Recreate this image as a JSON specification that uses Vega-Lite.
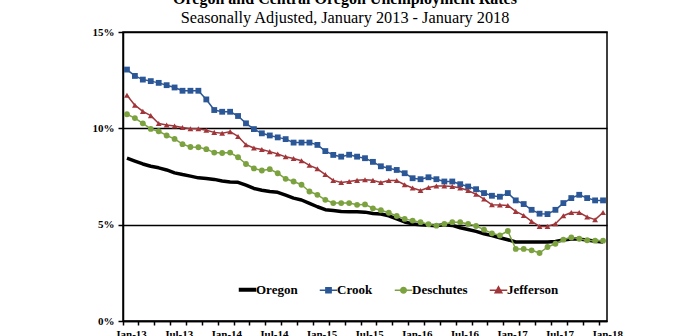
{
"$schema": "https://vega.github.io/schema/vega-lite/v6.json",
"width": 484, "height": 289,
"autosize": {"type": "none"},
"padding": {"left": 123, "top": 32, "right": 93, "bottom": 15},
"background": "white",
"config": {"view": {"stroke": "black", "strokeWidth": 1.5}, "font": "Liberation Serif"},
"title": {"text": "Oregon and Central Oregon Unemployment Rates", "subtitle": "Seasonally Adjusted, January 2013 - January 2018", "anchor": "middle", "frame": "group", "dx": -20, "font": "Liberation Serif", "fontSize": 16, "fontWeight": "bold", "color": "black", "subtitleFont": "Liberation Serif", "subtitleFontSize": 16.3, "subtitleColor": "black", "subtitlePadding": 3, "offset": 0},
"data": {"values": [
{"month":"Jan-13","series":"Oregon","rate":8.45},{"month":"Feb-13","series":"Oregon","rate":8.3},{"month":"Mar-13","series":"Oregon","rate":8.15},{"month":"Apr-13","series":"Oregon","rate":8.03},{"month":"May-13","series":"Oregon","rate":7.95},{"month":"Jun-13","series":"Oregon","rate":7.84},{"month":"Jul-13","series":"Oregon","rate":7.69},{"month":"Aug-13","series":"Oregon","rate":7.6},{"month":"Sep-13","series":"Oregon","rate":7.52},{"month":"Oct-13","series":"Oregon","rate":7.43},{"month":"Nov-13","series":"Oregon","rate":7.4},{"month":"Dec-13","series":"Oregon","rate":7.35},
{"month":"Jan-14","series":"Oregon","rate":7.27},{"month":"Feb-14","series":"Oregon","rate":7.22},{"month":"Mar-14","series":"Oregon","rate":7.2},{"month":"Apr-14","series":"Oregon","rate":7.05},{"month":"May-14","series":"Oregon","rate":6.88},{"month":"Jun-14","series":"Oregon","rate":6.79},{"month":"Jul-14","series":"Oregon","rate":6.72},{"month":"Aug-14","series":"Oregon","rate":6.68},{"month":"Sep-14","series":"Oregon","rate":6.53},{"month":"Oct-14","series":"Oregon","rate":6.38},{"month":"Nov-14","series":"Oregon","rate":6.28},{"month":"Dec-14","series":"Oregon","rate":6.1},
{"month":"Jan-15","series":"Oregon","rate":5.93},{"month":"Feb-15","series":"Oregon","rate":5.78},{"month":"Mar-15","series":"Oregon","rate":5.73},{"month":"Apr-15","series":"Oregon","rate":5.68},{"month":"May-15","series":"Oregon","rate":5.67},{"month":"Jun-15","series":"Oregon","rate":5.67},{"month":"Jul-15","series":"Oregon","rate":5.65},{"month":"Aug-15","series":"Oregon","rate":5.58},{"month":"Sep-15","series":"Oregon","rate":5.55},{"month":"Oct-15","series":"Oregon","rate":5.46},{"month":"Nov-15","series":"Oregon","rate":5.3},{"month":"Dec-15","series":"Oregon","rate":5.14},
{"month":"Jan-16","series":"Oregon","rate":5.04},{"month":"Feb-16","series":"Oregon","rate":5.0},{"month":"Mar-16","series":"Oregon","rate":4.97},{"month":"Apr-16","series":"Oregon","rate":4.95},{"month":"May-16","series":"Oregon","rate":4.99},{"month":"Jun-16","series":"Oregon","rate":4.96},{"month":"Jul-16","series":"Oregon","rate":4.84},{"month":"Aug-16","series":"Oregon","rate":4.75},{"month":"Sep-16","series":"Oregon","rate":4.65},{"month":"Oct-16","series":"Oregon","rate":4.53},{"month":"Nov-16","series":"Oregon","rate":4.43},{"month":"Dec-16","series":"Oregon","rate":4.32},
{"month":"Jan-17","series":"Oregon","rate":4.22},{"month":"Feb-17","series":"Oregon","rate":4.1},{"month":"Mar-17","series":"Oregon","rate":4.1},{"month":"Apr-17","series":"Oregon","rate":4.1},{"month":"May-17","series":"Oregon","rate":4.1},{"month":"Jun-17","series":"Oregon","rate":4.1},{"month":"Jul-17","series":"Oregon","rate":4.13},{"month":"Aug-17","series":"Oregon","rate":4.2},{"month":"Sep-17","series":"Oregon","rate":4.25},{"month":"Oct-17","series":"Oregon","rate":4.25},{"month":"Nov-17","series":"Oregon","rate":4.2},{"month":"Dec-17","series":"Oregon","rate":4.14},{"month":"Jan-18","series":"Oregon","rate":4.1},
{"month":"Jan-13","series":"Crook","rate":13.05},{"month":"Feb-13","series":"Crook","rate":12.72},{"month":"Mar-13","series":"Crook","rate":12.53},{"month":"Apr-13","series":"Crook","rate":12.45},{"month":"May-13","series":"Crook","rate":12.36},{"month":"Jun-13","series":"Crook","rate":12.24},{"month":"Jul-13","series":"Crook","rate":12.12},{"month":"Aug-13","series":"Crook","rate":11.95},{"month":"Sep-13","series":"Crook","rate":11.95},{"month":"Oct-13","series":"Crook","rate":11.95},{"month":"Nov-13","series":"Crook","rate":11.5},{"month":"Dec-13","series":"Crook","rate":10.95},
{"month":"Jan-14","series":"Crook","rate":10.86},{"month":"Feb-14","series":"Crook","rate":10.86},{"month":"Mar-14","series":"Crook","rate":10.64},{"month":"Apr-14","series":"Crook","rate":10.26},{"month":"May-14","series":"Crook","rate":9.96},{"month":"Jun-14","series":"Crook","rate":9.74},{"month":"Jul-14","series":"Crook","rate":9.63},{"month":"Aug-14","series":"Crook","rate":9.53},{"month":"Sep-14","series":"Crook","rate":9.44},{"month":"Oct-14","series":"Crook","rate":9.26},{"month":"Nov-14","series":"Crook","rate":9.26},{"month":"Dec-14","series":"Crook","rate":9.26},
{"month":"Jan-15","series":"Crook","rate":9.14},{"month":"Feb-15","series":"Crook","rate":8.82},{"month":"Mar-15","series":"Crook","rate":8.62},{"month":"Apr-15","series":"Crook","rate":8.53},{"month":"May-15","series":"Crook","rate":8.63},{"month":"Jun-15","series":"Crook","rate":8.53},{"month":"Jul-15","series":"Crook","rate":8.45},{"month":"Aug-15","series":"Crook","rate":8.26},{"month":"Sep-15","series":"Crook","rate":8.03},{"month":"Oct-15","series":"Crook","rate":7.93},{"month":"Nov-15","series":"Crook","rate":7.84},{"month":"Dec-15","series":"Crook","rate":7.67},
{"month":"Jan-16","series":"Crook","rate":7.41},{"month":"Feb-16","series":"Crook","rate":7.36},{"month":"Mar-16","series":"Crook","rate":7.46},{"month":"Apr-16","series":"Crook","rate":7.36},{"month":"May-16","series":"Crook","rate":7.24},{"month":"Jun-16","series":"Crook","rate":7.24},{"month":"Jul-16","series":"Crook","rate":7.1},{"month":"Aug-16","series":"Crook","rate":6.98},{"month":"Sep-16","series":"Crook","rate":6.84},{"month":"Oct-16","series":"Crook","rate":6.64},{"month":"Nov-16","series":"Crook","rate":6.5},{"month":"Dec-16","series":"Crook","rate":6.45},
{"month":"Jan-17","series":"Crook","rate":6.64},{"month":"Feb-17","series":"Crook","rate":6.26},{"month":"Mar-17","series":"Crook","rate":6.07},{"month":"Apr-17","series":"Crook","rate":5.77},{"month":"May-17","series":"Crook","rate":5.57},{"month":"Jun-17","series":"Crook","rate":5.55},{"month":"Jul-17","series":"Crook","rate":5.77},{"month":"Aug-17","series":"Crook","rate":6.12},{"month":"Sep-17","series":"Crook","rate":6.38},{"month":"Oct-17","series":"Crook","rate":6.55},{"month":"Nov-17","series":"Crook","rate":6.38},{"month":"Dec-17","series":"Crook","rate":6.26},{"month":"Jan-18","series":"Crook","rate":6.26},
{"month":"Jan-13","series":"Deschutes","rate":10.73},{"month":"Feb-13","series":"Deschutes","rate":10.53},{"month":"Mar-13","series":"Deschutes","rate":10.26},{"month":"Apr-13","series":"Deschutes","rate":9.97},{"month":"May-13","series":"Deschutes","rate":9.85},{"month":"Jun-13","series":"Deschutes","rate":9.63},{"month":"Jul-13","series":"Deschutes","rate":9.45},{"month":"Aug-13","series":"Deschutes","rate":9.18},{"month":"Sep-13","series":"Deschutes","rate":9.03},{"month":"Oct-13","series":"Deschutes","rate":9.02},{"month":"Nov-13","series":"Deschutes","rate":8.92},{"month":"Dec-13","series":"Deschutes","rate":8.74},
{"month":"Jan-14","series":"Deschutes","rate":8.72},{"month":"Feb-14","series":"Deschutes","rate":8.74},{"month":"Mar-14","series":"Deschutes","rate":8.5},{"month":"Apr-14","series":"Deschutes","rate":8.15},{"month":"May-14","series":"Deschutes","rate":7.92},{"month":"Jun-14","series":"Deschutes","rate":7.81},{"month":"Jul-14","series":"Deschutes","rate":7.88},{"month":"Aug-14","series":"Deschutes","rate":7.67},{"month":"Sep-14","series":"Deschutes","rate":7.38},{"month":"Oct-14","series":"Deschutes","rate":7.24},{"month":"Nov-14","series":"Deschutes","rate":7.07},{"month":"Dec-14","series":"Deschutes","rate":6.72},
{"month":"Jan-15","series":"Deschutes","rate":6.55},{"month":"Feb-15","series":"Deschutes","rate":6.29},{"month":"Mar-15","series":"Deschutes","rate":6.12},{"month":"Apr-15","series":"Deschutes","rate":6.12},{"month":"May-15","series":"Deschutes","rate":6.12},{"month":"Jun-15","series":"Deschutes","rate":6.03},{"month":"Jul-15","series":"Deschutes","rate":6.05},{"month":"Aug-15","series":"Deschutes","rate":5.85},{"month":"Sep-15","series":"Deschutes","rate":5.75},{"month":"Oct-15","series":"Deschutes","rate":5.62},{"month":"Nov-15","series":"Deschutes","rate":5.45},{"month":"Dec-15","series":"Deschutes","rate":5.3},
{"month":"Jan-16","series":"Deschutes","rate":5.21},{"month":"Feb-16","series":"Deschutes","rate":5.13},{"month":"Mar-16","series":"Deschutes","rate":5.02},{"month":"Apr-16","series":"Deschutes","rate":4.95},{"month":"May-16","series":"Deschutes","rate":5.04},{"month":"Jun-16","series":"Deschutes","rate":5.13},{"month":"Jul-16","series":"Deschutes","rate":5.13},{"month":"Aug-16","series":"Deschutes","rate":5.04},{"month":"Sep-16","series":"Deschutes","rate":4.93},{"month":"Oct-16","series":"Deschutes","rate":4.74},{"month":"Nov-16","series":"Deschutes","rate":4.55},{"month":"Dec-16","series":"Deschutes","rate":4.44},
{"month":"Jan-17","series":"Deschutes","rate":4.67},{"month":"Feb-17","series":"Deschutes","rate":3.74},{"month":"Mar-17","series":"Deschutes","rate":3.74},{"month":"Apr-17","series":"Deschutes","rate":3.67},{"month":"May-17","series":"Deschutes","rate":3.53},{"month":"Jun-17","series":"Deschutes","rate":3.84},{"month":"Jul-17","series":"Deschutes","rate":4.01},{"month":"Aug-17","series":"Deschutes","rate":4.22},{"month":"Sep-17","series":"Deschutes","rate":4.34},{"month":"Oct-17","series":"Deschutes","rate":4.27},{"month":"Nov-17","series":"Deschutes","rate":4.19},{"month":"Dec-17","series":"Deschutes","rate":4.17},{"month":"Jan-18","series":"Deschutes","rate":4.17},
{"month":"Jan-13","series":"Jefferson","rate":11.72},{"month":"Feb-13","series":"Jefferson","rate":11.2},{"month":"Mar-13","series":"Jefferson","rate":10.88},{"month":"Apr-13","series":"Jefferson","rate":10.66},{"month":"May-13","series":"Jefferson","rate":10.25},{"month":"Jun-13","series":"Jefferson","rate":10.17},{"month":"Jul-13","series":"Jefferson","rate":10.12},{"month":"Aug-13","series":"Jefferson","rate":10.04},{"month":"Sep-13","series":"Jefferson","rate":9.98},{"month":"Oct-13","series":"Jefferson","rate":9.98},{"month":"Nov-13","series":"Jefferson","rate":9.9},{"month":"Dec-13","series":"Jefferson","rate":9.79},
{"month":"Jan-14","series":"Jefferson","rate":9.74},{"month":"Feb-14","series":"Jefferson","rate":9.83},{"month":"Mar-14","series":"Jefferson","rate":9.58},{"month":"Apr-14","series":"Jefferson","rate":9.15},{"month":"May-14","series":"Jefferson","rate":8.98},{"month":"Jun-14","series":"Jefferson","rate":8.9},{"month":"Jul-14","series":"Jefferson","rate":8.79},{"month":"Aug-14","series":"Jefferson","rate":8.67},{"month":"Sep-14","series":"Jefferson","rate":8.52},{"month":"Oct-14","series":"Jefferson","rate":8.43},{"month":"Nov-14","series":"Jefferson","rate":8.32},{"month":"Dec-14","series":"Jefferson","rate":8.08},
{"month":"Jan-15","series":"Jefferson","rate":7.9},{"month":"Feb-15","series":"Jefferson","rate":7.6},{"month":"Mar-15","series":"Jefferson","rate":7.3},{"month":"Apr-15","series":"Jefferson","rate":7.19},{"month":"May-15","series":"Jefferson","rate":7.24},{"month":"Jun-15","series":"Jefferson","rate":7.3},{"month":"Jul-15","series":"Jefferson","rate":7.33},{"month":"Aug-15","series":"Jefferson","rate":7.3},{"month":"Sep-15","series":"Jefferson","rate":7.19},{"month":"Oct-15","series":"Jefferson","rate":7.29},{"month":"Nov-15","series":"Jefferson","rate":7.29},{"month":"Dec-15","series":"Jefferson","rate":7.07},
{"month":"Jan-16","series":"Jefferson","rate":6.9},{"month":"Feb-16","series":"Jefferson","rate":6.77},{"month":"Mar-16","series":"Jefferson","rate":6.93},{"month":"Apr-16","series":"Jefferson","rate":7.01},{"month":"May-16","series":"Jefferson","rate":7.01},{"month":"Jun-16","series":"Jefferson","rate":6.98},{"month":"Jul-16","series":"Jefferson","rate":6.9},{"month":"Aug-16","series":"Jefferson","rate":6.77},{"month":"Sep-16","series":"Jefferson","rate":6.58},{"month":"Oct-16","series":"Jefferson","rate":6.33},{"month":"Nov-16","series":"Jefferson","rate":6.03},{"month":"Dec-16","series":"Jefferson","rate":6.02},
{"month":"Jan-17","series":"Jefferson","rate":6.0},{"month":"Feb-17","series":"Jefferson","rate":5.69},{"month":"Mar-17","series":"Jefferson","rate":5.48},{"month":"Apr-17","series":"Jefferson","rate":5.17},{"month":"May-17","series":"Jefferson","rate":4.91},{"month":"Jun-17","series":"Jefferson","rate":4.91},{"month":"Jul-17","series":"Jefferson","rate":5.05},{"month":"Aug-17","series":"Jefferson","rate":5.46},{"month":"Sep-17","series":"Jefferson","rate":5.63},{"month":"Oct-17","series":"Jefferson","rate":5.63},{"month":"Nov-17","series":"Jefferson","rate":5.4},{"month":"Dec-17","series":"Jefferson","rate":5.26},{"month":"Jan-18","series":"Jefferson","rate":5.63}
]},
"layer": [
{
"mark": {"type": "line", "strokeJoin": "round"},
"encoding": {
"x": {"field": "month", "type": "ordinal",
"scale": {"type": "band", "paddingInner": 0, "paddingOuter": 0, "domain": ["Jan-13","Feb-13","Mar-13","Apr-13","May-13","Jun-13","Jul-13","Aug-13","Sep-13","Oct-13","Nov-13","Dec-13","Jan-14","Feb-14","Mar-14","Apr-14","May-14","Jun-14","Jul-14","Aug-14","Sep-14","Oct-14","Nov-14","Dec-14","Jan-15","Feb-15","Mar-15","Apr-15","May-15","Jun-15","Jul-15","Aug-15","Sep-15","Oct-15","Nov-15","Dec-15","Jan-16","Feb-16","Mar-16","Apr-16","May-16","Jun-16","Jul-16","Aug-16","Sep-16","Oct-16","Nov-16","Dec-16","Jan-17","Feb-17","Mar-17","Apr-17","May-17","Jun-17","Jul-17","Aug-17","Sep-17","Oct-17","Nov-17","Dec-17","Jan-18"]},
"axis": {"values": ["Jan-13","Mar-13","May-13","Jul-13","Sep-13","Nov-13","Jan-14","Mar-14","May-14","Jul-14","Sep-14","Nov-14","Jan-15","Mar-15","May-15","Jul-15","Sep-15","Nov-15","Jan-16","Mar-16","May-16","Jul-16","Sep-16","Nov-16","Jan-17","Mar-17","May-17","Jul-17","Sep-17","Nov-17","Jan-18"],
"bandPosition": 0, "labelExpr": "(slice(datum.value,0,3)==='Jan' || slice(datum.value,0,3)==='Jul') ? datum.value : ''", "labelOffset": 4, "labelAngle": 0, "labelOverlap": false, "labelBound": false, "labelPadding": 3, "labelFont": "Liberation Serif", "labelFontWeight": "bold", "labelFontSize": 11, "labelColor": "black", "tickSize": 4, "tickColor": "black", "tickWidth": 1.5, "domainColor": "black", "domainWidth": 1.5, "grid": false, "title": null}},
"y": {"field": "rate", "type": "quantitative", "scale": {"domain": [0, 15], "nice": false},
"axis": {"values": [0, 5, 10, 15], "labelExpr": "datum.value + '%'", "grid": true, "gridColor": "black", "gridWidth": 1.5, "gridOpacity": 1, "tickSize": 5, "tickColor": "black", "tickWidth": 1.5, "domainColor": "black", "domainWidth": 1.5, "labelFont": "Liberation Serif", "labelFontWeight": "bold", "labelFontSize": 11, "labelColor": "black", "labelPadding": 4, "title": null}},
"color": {"field": "series", "type": "nominal",
"scale": {"domain": ["Oregon", "Crook", "Deschutes", "Jefferson"], "range": ["#000000", "#2B5797", "#7BA23F", "#A0363A"]},
"legend": {"orient": "none", "legendX": 118, "legendY": 251, "direction": "horizontal", "columns": 4, "title": null, "padding": 0, "symbolSize": 306, "labelFont": "Liberation Serif", "labelFontWeight": "bold", "labelFontSize": 13, "labelColor": "black", "labelOffset": 2, "columnPadding": 18,
"encode": {"symbols": {"update": {
"shape": {"signal": "datum.value==='Oregon' ? 'M-1,0H1' : datum.value==='Crook' ? 'M-1,0H1M-0.3,-0.3H0.3V0.3H-0.3Z' : datum.value==='Deschutes' ? 'M-1,0H1M0.32,0A0.32,0.32 0 1,1 -0.32,0A0.32,0.32 0 1,1 0.32,0Z' : 'M-1,0H1M0,-0.4L0.38,0.28H-0.38Z'"},
"strokeWidth": {"signal": "datum.value==='Oregon' ? 4 : 1.5"},
"fill": {"signal": "scale('color', datum.value)"},
"stroke": {"signal": "scale('color', datum.value)"}}}}}},
"strokeWidth": {"condition": {"test": "datum.series==='Oregon'", "value": 3.5}, "value": 1.5}
}
},
{
"transform": [{"filter": "datum.series !== 'Oregon'"}],
"mark": {"type": "point", "filled": true, "opacity": 1, "size": 34},
"encoding": {
"x": {"field": "month", "type": "ordinal"},
"y": {"field": "rate", "type": "quantitative"},
"color": {"field": "series", "type": "nominal", "legend": null},
"shape": {"field": "series", "type": "nominal", "scale": {"domain": ["Crook", "Deschutes", "Jefferson"], "range": ["square", "circle", "triangle-up"]}, "legend": null}
}
}
]
}
